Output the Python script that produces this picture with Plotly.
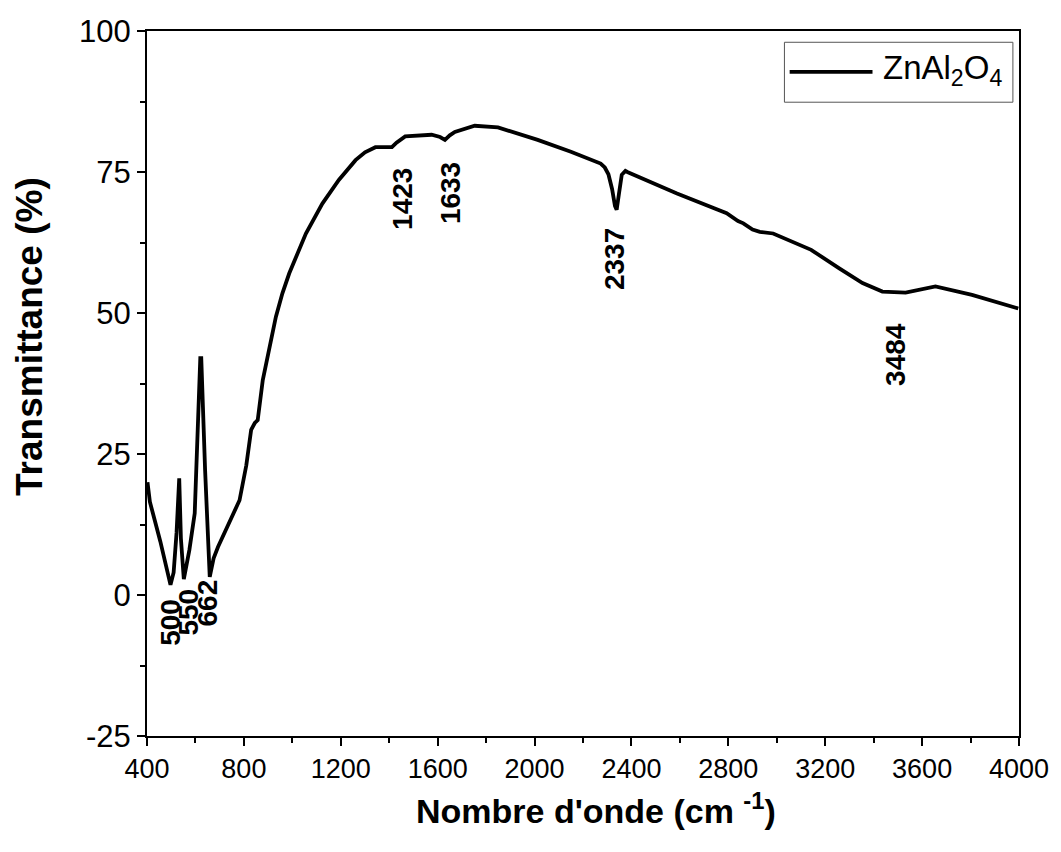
import plotly.graph_objects as go

# FT-IR spectrum of ZnAl2O4
wavenumber = [402, 412, 455, 497, 510, 522, 533, 540, 552, 575, 597, 612, 620, 624,
              640, 659, 675, 693, 741, 782, 810, 830, 845, 857, 878, 918, 932, 959,
              987, 1056, 1124, 1192, 1261, 1300, 1343, 1411, 1430, 1466, 1520, 1575,
              1610, 1630, 1650, 1671, 1753, 1849, 2013, 2150, 2273, 2290, 2305, 2320,
              2332, 2339, 2348, 2360, 2375, 2383, 2588, 2793, 2840, 2862, 2900, 2930,
              2985, 3142, 3258, 3354, 3436, 3532, 3655, 3806, 3997]
transmittance = [20.0, 16.5, 9.5, 1.8, 4.0, 11.0, 20.7, 10.0, 2.8, 8.0, 14.5, 30.0, 42.0, 42.0,
                 22.0, 3.2, 6.5, 8.5, 12.8, 16.8, 23.0, 29.3, 30.5, 31.0, 38.1, 46.5, 49.3, 53.5,
                 57.0, 64.1, 69.4, 73.6, 77.1, 78.5, 79.4, 79.4, 80.2, 81.3, 81.5, 81.6,
                 81.2, 80.7, 81.5, 82.1, 83.2, 82.9, 80.7, 78.6, 76.5, 75.8, 74.6, 72.0,
                 69.0, 68.3, 71.0, 74.5, 75.2, 75.0, 71.2, 67.7, 66.3, 65.9, 64.8, 64.4,
                 64.1, 61.2, 57.9, 55.3, 53.8, 53.6, 54.7, 53.2, 50.8]

peak_labels = ["500", "550", "662", "1423", "1633", "2337", "3484"]
label_x = [494, 572, 650, 1452, 1656, 2333, 3487]
label_y = [-4.8, -3.0, -1.4, 70.2, 71.3, 59.6, 42.7]

series_name = "ZnAl<sub>2</sub>O<sub>4</sub>"
x_ticks = [400, 800, 1200, 1600, 2000, 2400, 2800, 3200, 3600, 4000]
y_ticks = [-25, 0, 25, 50, 75, 100]
y_tick_text = ["-25", "0", "25", "50", "75", "100"]

FONT = "Liberation Sans, Arial, sans-serif"

fig = go.Figure()
fig.add_trace(go.Scatter(x=wavenumber, y=transmittance, mode="lines",
                         line=dict(color="black", width=3.8),
                         name=series_name, showlegend=False))

for txt, xv, yv in zip(peak_labels, label_x, label_y):
    fig.add_annotation(x=xv, y=yv, xref="x", yref="y", text=txt, textangle=-90,
                       showarrow=False,
                       font=dict(family=FONT, size=28, color="black", weight="bold"))

# custom legend box (long line sample like the original)
fig.add_shape(type="rect", xref="paper", yref="paper", x0=0.731, x1=0.993, y0=0.899, y1=0.984,
              line=dict(color="#555555", width=1), fillcolor="white")
fig.add_shape(type="line", xref="paper", yref="paper", x0=0.737, x1=0.832, y0=0.942, y1=0.942,
              line=dict(color="black", width=3.8))
fig.add_annotation(x=0.842, y=0.945, xref="paper", yref="paper", xanchor="left", yanchor="middle",
                   text=series_name, showarrow=False,
                   font=dict(family=FONT, size=33, color="black"))

# axis titles placed as in the original
fig.add_annotation(x=0, y=0.566, xref="paper", yref="paper", xanchor="center", yanchor="middle",
                   xshift=-117, text="Transmittance (%)", textangle=-90, showarrow=False,
                   font=dict(family=FONT, size=37, color="black", weight="bold"))
fig.add_annotation(x=0.5, y=0, xref="paper", yref="paper", xanchor="center", yanchor="middle",
                   xshift=13, yshift=-72, text="Nombre d'onde (cm <sup>-1</sup>)", showarrow=False,
                   font=dict(family=FONT, size=34, color="black", weight="bold"))

axis_common = dict(showline=True, linecolor="black", linewidth=2, mirror=True,
                   ticks="outside", ticklen=8, tickwidth=2, tickcolor="black",
                   showgrid=False, zeroline=False)

fig.update_layout(
    width=1061, height=852,
    margin=dict(l=147, r=36, t=31, b=116),
    paper_bgcolor="white", plot_bgcolor="white",
    xaxis=dict(range=[400, 4000], tickvals=x_ticks,
               minor=dict(ticks="outside", ticklen=5, tickwidth=2, tickcolor="black", dtick=200),
               tickfont=dict(family=FONT, size=27, color="black"),
               **axis_common),
    yaxis=dict(range=[-25, 100], tickvals=y_ticks, ticktext=y_tick_text,
               minor=dict(ticks="outside", ticklen=5, tickwidth=2, tickcolor="black", dtick=12.5),
               tickfont=dict(family=FONT, size=31, color="black"),
               **axis_common),
)

fig.write_html("out.html")
